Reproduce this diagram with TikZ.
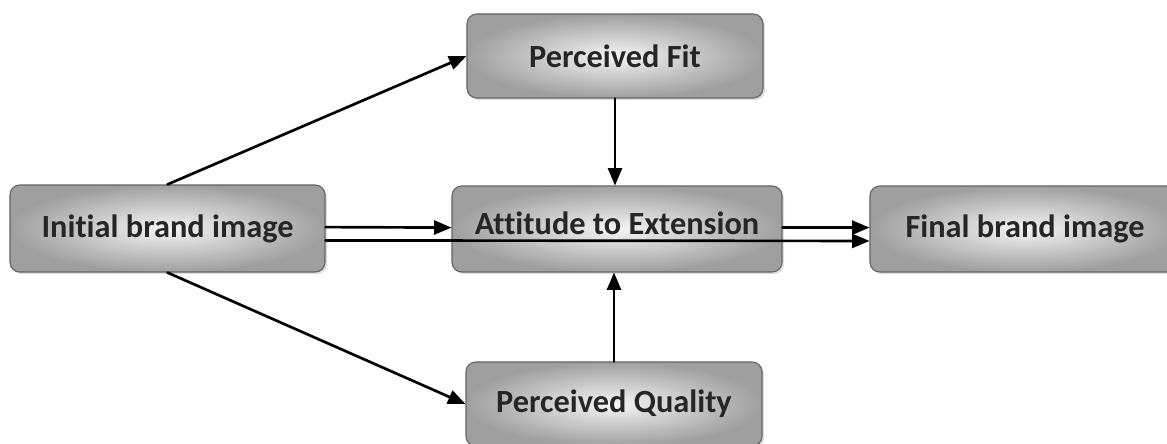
\documentclass[tikz,border=0pt]{standalone}
\usepackage{fontspec}
\setmainfont[Ligatures=NoCommon]{Carlito}
\usetikzlibrary{arrows,shadows}

\tikzset{
  brandbox/.style={rounded corners=7pt, draw=black!60, line width=0.8pt,
    inner color=gray!8, outer color=gray!75,
    drop shadow={opacity=0.25, shadow xshift=1.5pt, shadow yshift=-1.5pt},
    font=\bfseries\fontsize{23}{27}\selectfont, text=black!85,
    minimum height=2.15cm},
  link/.style={->, line width=1.9pt}
}

\begin{document}
\begin{tikzpicture}[line cap=round,line join=round,>=triangle 45,x=0.025cm,y=-0.025cm]
        \useasboundingbox (0,0) rectangle (1167,443);
        \clip (0,0) rectangle (1167,443);
        \node [brandbox, minimum width=7.4cm, minimum height=2.1cm] (fit) at (615,56) {Perceived Fit};
        \node [brandbox, minimum width=7.875cm, minimum height=2.175cm] (init) at (167.5,228.5) {Initial brand image};
        \node [brandbox, minimum width=8.25cm, text depth=0.3cm] (att) at (617,229) {Attitude to Extension};
        \node [brandbox, minimum width=7.75cm] (final) at (1025,229) {Final brand image};
        \node [brandbox, minimum width=7.4cm, minimum height=2.1cm] (qual) at (614,404) {Perceived Quality};
        \draw [link] (init.north) -- (fit.west);
        \draw [link] (init.south) -- (qual.west);
        \draw [link] ([yshift=1pt]init.east) -- ([yshift=1pt]att.west);
        \draw [link] ([yshift=1pt]att.east) -- ([yshift=1pt]final.west);
        \draw [link] ([yshift=-8.5pt]init.east) -- ([yshift=-8.5pt]final.west);
        \draw [link] (fit.south) -- (fit.south |- att.north);
        \draw [link] (qual.north) -- (qual.north |- att.south);
\end{tikzpicture}
\end{document}
